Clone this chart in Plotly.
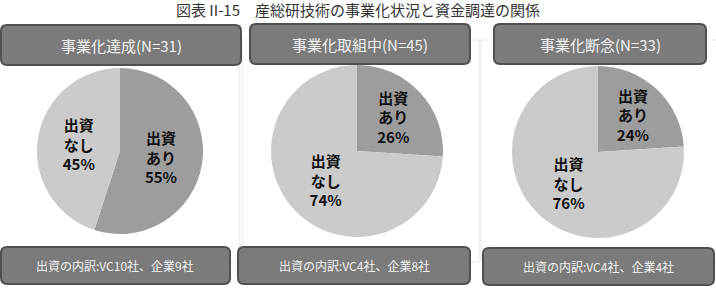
import plotly.graph_objects as go

# ---- data ----
title_text = "図表 II-15　産総研技術の事業化状況と資金調達の関係"
panel_titles = ["事業化達成(N=31)", "事業化取組中(N=45)", "事業化断念(N=33)"]
slice_labels = ["出資<br>あり", "出資<br>なし"]
values_achieved = [55, 45]
values_inprogress = [26, 74]
values_abandoned = [24, 76]
footer_texts = ["出資の内訳:VC10社、企業9社", "出資の内訳:VC4社、企業8社", "出資の内訳:VC4社、企業4社"]

W, H = 716, 288
FONT = "Noto Sans CJK JP"
DARK = "#9d9d9d"
LIGHT = "#cbcbcb"


def px(x):
    return x / W


def py(y):
    return 1 - y / H


fig = go.Figure()

# pie layout: (cx, cy, r) in pixels
pie_geo = [(120, 151, 83), (357, 151, 86), (598, 152, 86)]
all_values = [values_achieved, values_inprogress, values_abandoned]

for vals, (cx, cy, r) in zip(all_values, pie_geo):
    fig.add_trace(go.Pie(
        labels=["出資あり", "出資なし"],
        values=vals,
        text=slice_labels,
        texttemplate="%{text}<br>%{value}%",
        textposition="inside",
        insidetextorientation="horizontal",
        textfont=dict(family=FONT, size=15, color="#111111", weight="bold"),
        marker=dict(colors=[DARK, LIGHT], line=dict(width=0)),
        sort=False,
        direction="clockwise",
        rotation=0,
        hole=0,
        showlegend=False,
        hoverinfo="skip",
        domain=dict(x=[px(cx - r), px(cx + r)], y=[py(cy + r), py(cy - r)]),
    ))


def rounded_rect(x0, y0, x1, y1, rad):
    def P(x, y):
        return f"{px(x):.5f},{py(y):.5f}"
    return (f"M {P(x0 + rad, y0)} L {P(x1 - rad, y0)} Q {P(x1, y0)} {P(x1, y0 + rad)} "
            f"L {P(x1, y1 - rad)} Q {P(x1, y1)} {P(x1 - rad, y1)} "
            f"L {P(x0 + rad, y1)} Q {P(x0, y1)} {P(x0, y1 - rad)} "
            f"L {P(x0, y0 + rad)} Q {P(x0, y0)} {P(x0 + rad, y0)} Z")


shapes = []
# faint panel outlines
for (x0, x1) in [(-2, 239), (242, 479), (481, 718)]:
    shapes.append(dict(type="rect", xref="paper", yref="paper",
                       x0=px(x0), x1=px(x1), y0=py(262), y1=py(40),
                       line=dict(color="#e8e8e8", width=1), fillcolor="rgba(0,0,0,0)", layer="below"))

header_boxes = [(1, 25, 241, 65), (250, 24, 470, 64), (494, 24, 706, 64)]
footer_boxes = [(1, 247, 230, 284), (238, 247, 470, 284), (483, 248, 714, 285)]
for (x0, y0, x1, y1) in header_boxes + footer_boxes:
    shapes.append(dict(type="path", xref="paper", yref="paper",
                       path=rounded_rect(x0, y0, x1, y1, 6),
                       fillcolor="#7b7b7b", line=dict(color="#505050", width=2), layer="above"))

annotations = [dict(text=title_text, x=0.5, y=py(10), xref="paper", yref="paper",
                    showarrow=False, font=dict(family=FONT, size=15, color="#333333"),
                    xanchor="center", yanchor="middle")]
for t, (x0, y0, x1, y1) in zip(panel_titles, header_boxes):
    annotations.append(dict(text=t, x=px((x0 + x1) / 2), y=py((y0 + y1) / 2), xref="paper", yref="paper",
                            showarrow=False, font=dict(family=FONT, size=15, color="#f2f2f2"),
                            xanchor="center", yanchor="middle"))
for t, (x0, y0, x1, y1) in zip(footer_texts, footer_boxes):
    annotations.append(dict(text=t, x=px((x0 + x1) / 2), y=py((y0 + y1) / 2), xref="paper", yref="paper",
                            showarrow=False, font=dict(family=FONT, size=12, color="#f2f2f2"),
                            xanchor="center", yanchor="middle"))

fig.update_layout(
    width=W, height=H,
    margin=dict(l=0, r=0, t=0, b=0),
    paper_bgcolor="white", plot_bgcolor="white",
    shapes=shapes, annotations=annotations,
)

fig.write_html("out.html", config={"displayModeBar": False})
